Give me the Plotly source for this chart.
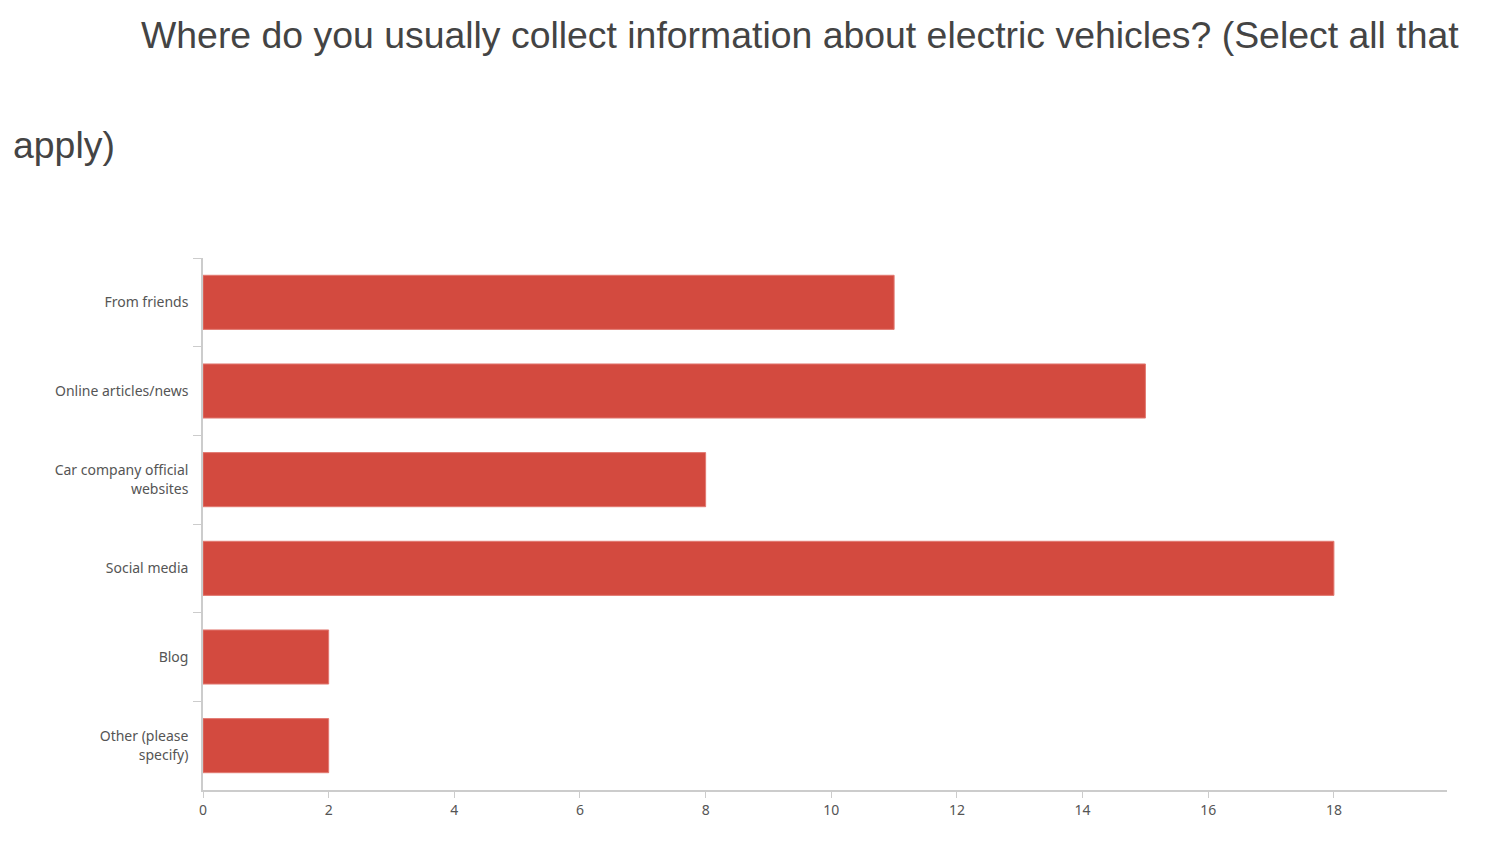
import plotly.graph_objects as go

categories = ["From friends", "Online articles/news", "Car company official<br>websites",
              "Social media", "Blog", "Other (please<br>specify)"]
counts = [11, 15, 8, 18, 2, 2]
x_ticks = [0, 2, 4, 6, 8, 10, 12, 14, 16, 18]

W, H = 1488, 850
L, R, T, B = 203, 41, 258, 60
pw, ph = W - L - R, H - T - B

fig = go.Figure(go.Bar(
    x=counts, y=categories, orientation="h",
    marker=dict(color="#D34A3F", line=dict(color="#E27A72", width=1)),
    hoverinfo="x+y",
))

def px(x):
    return (x - L) / pw

def py(y):
    return (H - B - y) / ph

fig.update_layout(
    width=W, height=H,
    margin=dict(l=L, r=R, t=T, b=B, pad=0),
    paper_bgcolor="white", plot_bgcolor="white",
    bargap=0.39,
    showlegend=False,
    annotations=[
        dict(text="Where do you usually collect information about electric vehicles? (Select all that",
             x=px(139), y=py(35), xref="paper", yref="paper", xanchor="left", yanchor="middle",
             showarrow=False, font=dict(family="Liberation Sans, Arial", size=37.4, color="#444444")),
        dict(text="apply)",
             x=px(11), y=py(145), xref="paper", yref="paper", xanchor="left", yanchor="middle",
             showarrow=False, font=dict(family="Liberation Sans, Arial", size=37.4, color="#444444")),
    ],
)

fig.update_xaxes(
    range=[0, 19.8], tickvals=x_ticks, ticktext=[str(v) for v in x_ticks],
    showgrid=False, zeroline=False, showline=True, linecolor="#CCCCCC", linewidth=1.5,
    ticks="outside", ticklen=6, tickcolor="#CCCCCC", tickwidth=1,
    tickfont=dict(family="Noto Sans", size=14, color="#555555"),
)
fig.update_yaxes(
    autorange="reversed", type="category",
    showgrid=False, zeroline=False, showline=True, linecolor="#CCCCCC", linewidth=1.5,
    ticks="outside", tickson="boundaries", ticklen=8, tickcolor="#CCCCCC", tickwidth=1,
    tickfont=dict(family="Noto Sans", size=14, color="#555555"),
    ticklabelstandoff=10,
)

fig.write_html("out.html")
